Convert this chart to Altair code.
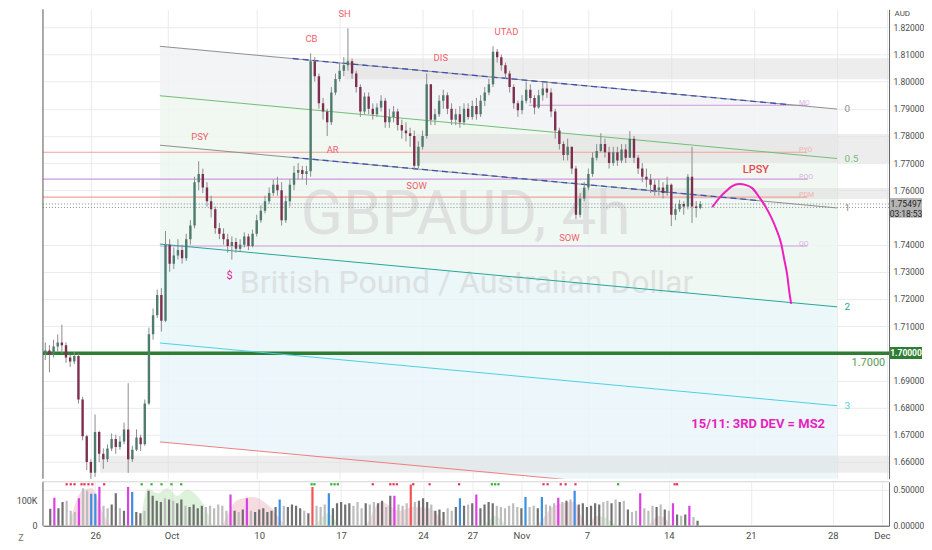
import altair as alt
import numpy as np
import pandas as pd

# GBPAUD 4h, four bars per trading day; trading day 0 = Mon 26 Sep 2022
BAR_START = -2.75
BAR_STEP = 0.25
FIRST_OPEN = 1.7000

closes = [
    1.7010, 1.6995, 1.7025,
    1.7040, 1.7030, 1.6985, 1.6970,
    1.6990, 1.6830, 1.6695, 1.6600,
    1.6560, 1.6710, 1.6630, 1.6610,
    1.6650, 1.6685, 1.6655, 1.6675,
    1.6720, 1.6610, 1.6645, 1.6690,
    1.6665, 1.6815, 1.7070, 1.7140,
    1.7215, 1.7120, 1.7400, 1.7330,
    1.7360, 1.7380, 1.7350, 1.7420,
    1.7470, 1.7630, 1.7660, 1.7610,
    1.7560, 1.7530, 1.7460, 1.7440,
    1.7420, 1.7395, 1.7410, 1.7385,
    1.7400, 1.7430, 1.7395, 1.7440,
    1.7490, 1.7525, 1.7560, 1.7590,
    1.7620, 1.7600, 1.7490, 1.7560,
    1.7620, 1.7665, 1.7675, 1.7660,
    1.7670, 1.8075, 1.8020, 1.7920,
    1.7890, 1.7850, 1.7960, 1.8010,
    1.8040, 1.8060, 1.8075, 1.8030,
    1.7980, 1.7890, 1.7945, 1.7900,
    1.7880, 1.7905, 1.7930, 1.7850,
    1.7870, 1.7890, 1.7840, 1.7820,
    1.7810, 1.7800, 1.7690, 1.7760,
    1.7800, 1.7990, 1.7860, 1.7880,
    1.7930, 1.7950, 1.7900, 1.7860,
    1.7880, 1.7850, 1.7900, 1.7870,
    1.7910, 1.7880, 1.7930, 1.7960,
    1.7990, 1.8110, 1.8090, 1.8060,
    1.8030, 1.7980, 1.7920, 1.7895,
    1.7930, 1.7970, 1.7940, 1.7905,
    1.7950, 1.7975, 1.7960, 1.7890,
    1.7820, 1.7770, 1.7730, 1.7760,
    1.7680, 1.7510, 1.7570, 1.7610,
    1.7660, 1.7720, 1.7745, 1.7770,
    1.7740, 1.7700, 1.7740, 1.7710,
    1.7750, 1.7720, 1.7790, 1.7720,
    1.7680, 1.7650, 1.7640, 1.7620,
    1.7600, 1.7610, 1.7590, 1.7620,
    1.7510, 1.7530, 1.7550, 1.7540,
    1.7650, 1.7540, 1.7535, 1.75497,
]
highs = [
    1.7040, 1.7030, 1.7050,
    1.7070, 1.7105, 1.7040, 1.6995,
    1.7005, 1.7000, 1.6840, 1.6700,
    1.6610, 1.6775, 1.6715, 1.6650,
    1.6665, 1.6705, 1.6700, 1.6695,
    1.6745, 1.6890, 1.6660, 1.6720,
    1.6700, 1.6830, 1.7095, 1.7165,
    1.7235, 1.7240, 1.7450, 1.7420,
    1.7390, 1.7420, 1.7400, 1.7440,
    1.7490, 1.7650, 1.7707, 1.7680,
    1.7630, 1.7580, 1.7540, 1.7480,
    1.7460, 1.7440, 1.7430, 1.7425,
    1.7420, 1.7445, 1.7440, 1.7455,
    1.7510, 1.7545, 1.7580, 1.7610,
    1.7640, 1.7650, 1.7630, 1.7580,
    1.7640, 1.7690, 1.7700, 1.7690,
    1.7690, 1.8104, 1.8090, 1.8030,
    1.7940, 1.7900, 1.7980, 1.8030,
    1.8070, 1.8090, 1.8196, 1.8085,
    1.8040, 1.7990, 1.7960, 1.7960,
    1.7920, 1.7920, 1.7950, 1.7940,
    1.7900, 1.7910, 1.7900, 1.7860,
    1.7850, 1.7830, 1.7820, 1.7780,
    1.7820, 1.8030, 1.7990, 1.7900,
    1.7950, 1.7970, 1.7960, 1.7920,
    1.7900, 1.7910, 1.7920, 1.7920,
    1.7930, 1.7940, 1.7950, 1.7980,
    1.8010, 1.8130, 1.8120, 1.8100,
    1.8070, 1.8040, 1.7990, 1.7930,
    1.7950, 1.8000, 1.7990, 1.7950,
    1.7970, 1.7995, 1.8000, 1.7975,
    1.7900, 1.7830, 1.7780, 1.7790,
    1.7760, 1.7690, 1.7590, 1.7630,
    1.7680, 1.7740, 1.7770, 1.7810,
    1.7790, 1.7760, 1.7760, 1.7760,
    1.7770, 1.7770, 1.7818, 1.7800,
    1.7730, 1.7700, 1.7680, 1.7660,
    1.7640, 1.7640, 1.7630, 1.7650,
    1.7625, 1.7550, 1.7565, 1.7560,
    1.7660, 1.7760, 1.7560, 1.7560,
]
lows = [
    1.6975, 1.6930, 1.6985,
    1.7005, 1.7000, 1.6965, 1.6950,
    1.6960, 1.6815, 1.6680, 1.6570,
    1.6535, 1.6545, 1.6600, 1.6575,
    1.6600, 1.6640, 1.6630, 1.6645,
    1.6665, 1.6560, 1.6600, 1.6640,
    1.6640, 1.6660, 1.6810, 1.7050,
    1.7130, 1.7080, 1.7115, 1.7300,
    1.7310, 1.7345, 1.7330, 1.7340,
    1.7400, 1.7460, 1.7600, 1.7590,
    1.7540, 1.7500, 1.7440, 1.7420,
    1.7400, 1.7370, 1.7345, 1.7370,
    1.7375, 1.7390, 1.7380, 1.7390,
    1.7430, 1.7480, 1.7515, 1.7550,
    1.7580, 1.7580, 1.7470, 1.7480,
    1.7540, 1.7600, 1.7640, 1.7640,
    1.7620, 1.7650, 1.8000, 1.7900,
    1.7860, 1.7800, 1.7840, 1.7950,
    1.8000, 1.8020, 1.8040, 1.8010,
    1.7960, 1.7870, 1.7880, 1.7880,
    1.7860, 1.7870, 1.7890, 1.7830,
    1.7830, 1.7850, 1.7820, 1.7790,
    1.7780, 1.7760, 1.7675, 1.7680,
    1.7750, 1.7790, 1.7840, 1.7840,
    1.7870, 1.7900, 1.7880, 1.7840,
    1.7840, 1.7830, 1.7840, 1.7860,
    1.7860, 1.7860, 1.7870, 1.7910,
    1.7950, 1.7980, 1.8070, 1.8040,
    1.8010, 1.7960, 1.7900, 1.7870,
    1.7880, 1.7920, 1.7920, 1.7880,
    1.7900, 1.7930, 1.7940, 1.7870,
    1.7790, 1.7750, 1.7710, 1.7710,
    1.7660, 1.7494, 1.7500, 1.7560,
    1.7600, 1.7650, 1.7710, 1.7740,
    1.7720, 1.7680, 1.7690, 1.7690,
    1.7700, 1.7700, 1.7720, 1.7700,
    1.7660, 1.7630, 1.7610, 1.7590,
    1.7580, 1.7580, 1.7570, 1.7580,
    1.7468, 1.7490, 1.7520, 1.7510,
    1.7530, 1.7480, 1.7500, 1.7530,
]
volumes_k = [
    68, 112, 70,
    95, 100, 60, 55,
    110, 150, 140, 128,
    128, 156, 80, 70,
    85, 130, 70, 60,
    155, 135, 55, 50,
    60, 140, 120, 100,
    95, 110, 105, 100,
    90, 105, 80, 75,
    85, 70, 80, 75,
    80, 70, 85, 80,
    60, 125, 60, 55,
    65, 110, 60, 55,
    65, 70, 55, 60,
    75, 105, 80, 75,
    85, 80, 70, 60,
    50, 155, 80, 75,
    85, 130, 70, 90,
    95, 85, 90, 80,
    95, 70, 90, 85,
    95, 90, 100, 75,
    120, 120, 85, 80,
    90, 165, 95, 100,
    110, 95, 85, 60,
    65, 55, 70, 60,
    75, 110, 80, 85,
    90, 125, 70, 85,
    95, 90, 80, 75,
    70, 80, 90, 75,
    70, 115, 75, 80,
    70, 115, 85, 80,
    90, 112, 95, 100,
    105, 140, 85, 90,
    75, 80, 90, 85,
    95, 100, 90, 105,
    95, 100, 65, 55,
    60, 130, 70, 60,
    80, 75, 85, 65,
    60, 90, 45, 40,
    45, 80, 35, 20,
]
# n = normal, m = magenta, b = blue, r = red volume bar
volume_kinds = [
    "nmn", "nnnn", "mnnb", "bmnn", "nnnn", "mbnn", "nnnn", "nnnn", "nnnn", "nnnn",
    "nnnn", "nmnn", "nmnn", "nnnn", "nbnn", "nnnn", "nrnn", "nbnn", "nnnn", "nnnn",
    "nnnn", "nmnn", "nrnn", "nnnn", "nnnn", "nbnn", "nmnn", "nnnn", "nnnn", "nbnn",
    "nbnn", "nmnn", "nbnn", "nnnn", "nnnn", "nnnn", "nmnn", "nnnn", "nmnn", "nmnn",
]

# volume indicator shading
pink_t = [-1.6, -0.8, -0.2, 0.4, 1.0, 7.6, 8.6, 9.6, 10.6, 11.8, 16.4, 17.4, 18.6,
          19.4, 20.4, 21.6, 26.8, 28.0, 29.2, 30.6, 31.0, 33.6, 34.4, 35.2]
pink_k = [0, 140, 150, 60, 0, 0, 100, 115, 80, 0, 0, 95, 60, 75, 70, 0, 0, 80, 95, 40, 0, 0, 40, 0]
green_t = [2.6, 3.2, 3.8, 4.4, 5.0, 5.6, 6.2, 6.8, 7.2, 13.2, 14.2, 15.0, 23.6, 24.4, 25.2, 30.0, 31.0, 32.0]
green_k = [0, 150, 130, 150, 120, 145, 120, 60, 0, 0, 50, 0, 0, 40, 0, 0, 35, 0]
red_dot_t = [-1.75, -1.5, -1.27, -0.84, -0.66, -0.42, -0.18, 0.54, 16.93, 18.0, 18.2, 18.4,
             19.4, 20.4, 22.2, 27.35, 27.6, 28.4, 28.7, 29.3, 35.35, 35.5]
green_dot_t = [2.83, 3.43, 4.04, 4.64, 5.24, 13.2, 13.37, 14.4, 14.6, 14.8, 24.2, 24.4, 24.6, 31.9]

tick_days = [0, 4.65, 10, 15, 20, 23, 26, 30, 35, 40, 45, 48]
tick_labels = ["26", "Oct", "10", "17", "24", "27", "Nov", "7", "14", "21", "28", "Dec"]
price_ticks = [1.66, 1.67, 1.68, 1.69, 1.71, 1.72, 1.73, 1.74, 1.76, 1.77, 1.78, 1.79, 1.80, 1.81, 1.82]

# fib channel
chan_levels = ["0", "0.5", "1", "2", "3", "4"]
chan_start = [1.8130, 1.7948, 1.7766, 1.7402, 1.7038, 1.6674]
chan_end = [1.7899, 1.7717, 1.7535, 1.7171, 1.6807, 1.6443]
CHAN_T0, CHAN_T1 = 4.16, 45.0

# horizontal levels
lvl_names = ["PYO", "PQO", "PDM", "MO", "QO"]
lvl_price = [1.7740, 1.7641, 1.7575, 1.7913, 1.7395]
lvl_start = [-2.89, -2.89, -2.89, 26.4, 4.16]
LVL_END = 43.2
current_price = 1.75497
ask_price = 1.7537

# shaded zones
zone_top = [1.8086, 1.7807, 1.7608, 1.6623]
zone_bottom = [1.8009, 1.7700, 1.7568, 1.6560]
zone_start = [15.3, 19.6, 29.2, 0.55]

# blue dashed trend lines
trend_t0 = [12.17, 12.17]
trend_t1 = [42.1, 40.3]
trend_p0 = [1.8085, 1.7721]
trend_p1 = [1.7915, 1.7562]

# projected path
path_t = [37.47, 37.89, 38.31, 38.67, 39.10, 39.52, 39.88, 40.30, 40.66, 41.02, 41.33,
          41.63, 41.81, 42.0, 42.11, 42.23]
path_p = [1.7538, 1.7571, 1.7597, 1.7615, 1.7623, 1.7619, 1.7608, 1.7575, 1.7542, 1.7501,
          1.7457, 1.7402, 1.7346, 1.7284, 1.7229, 1.7182]

ann_text = ["SH", "CB", "DIS", "UTAD", "PSY", "AR", "SOW", "SOW"]
ann_t = [15.3, 13.3, 21.1, 25.06, 6.57, 14.58, 19.64, 28.86]
ann_p = [1.8248, 1.8156, 1.8086, 1.8182, 1.7796, 1.7748, 1.7615, 1.7424]

# ---------------------------------------------------------------
W, H1, H2 = 847, 470, 44
T_MIN, T_MAX = -2.89, 48.13
PX_PER_PRICE = 2720
P_TOP = 1.826618
P_BOT = P_TOP - H1 / PX_PER_PRICE
VOL_MAX = 176000
GRID = "#ebebef"
UP, DOWN = "#4e7b6b", "#7e2f4f"
LABEL = "#4c4c4c"
FONT = "Roboto"

n = len(closes)
opens = [FIRST_OPEN] + closes[:-1]
candles = pd.DataFrame({
    "t": [BAR_START + i * BAR_STEP for i in range(n)],
    "open": opens, "high": highs, "low": lows, "close": closes,
    "vol": [v * 1000 for v in volumes_k],
    "kind": list("".join(volume_kinds)),
})
candles["high"] = candles[["high", "open", "close"]].max(axis=1)
candles["low"] = candles[["low", "open", "close"]].min(axis=1)
is_up = candles["close"] >= candles["open"]
candles["body"] = np.where(is_up, UP, DOWN)
vcols = {"m": "#dc3fe6", "b": "#3b8ee0", "r": "#f05454"}
candles["vcol"] = [vcols.get(k, "#707070" if u else "#bdbdbd") for k, u in zip(candles["kind"], is_up)]

xscale = alt.Scale(domain=[T_MIN, T_MAX], nice=False, zero=False)
yscale = alt.Scale(domain=[P_BOT, P_TOP], nice=False, zero=False)
label_expr = "".join(f"datum.value == {d} ? '{l}' : " for d, l in zip(tick_days, tick_labels)) + "''"


def X(field, bottom=False):
    if bottom:
        ax = alt.Axis(values=tick_days, labelExpr=label_expr, grid=True, gridColor=GRID, ticks=False,
                      domainColor="#555", labelFontSize=9.5, labelColor=LABEL, labelPadding=5,
                      labelFlush=False, title=None, labelFont=FONT)
    else:
        ax = alt.Axis(values=tick_days, labels=False, grid=True, gridColor=GRID, ticks=False,
                      domain=False, title=None)
    return alt.X(field, type="quantitative", scale=xscale, axis=ax)


price_axis = alt.Axis(orient="right", values=price_ticks, format=".5f", grid=True, gridColor=GRID,
                      ticks=False, domainColor="#666", labelFontSize=8.5, labelColor=LABEL,
                      labelPadding=4, labelFont=FONT, title="AUD", titleAngle=0, titleAlign="left",
                      titleBaseline="top", titleX=5, titleY=0, titleFontSize=8,
                      titleFontWeight="normal", titleColor=LABEL, titleFont=FONT)


def Y(field):
    return alt.Y(field, type="quantitative", scale=yscale, axis=price_axis)


# channel fills and lines
fill_cols = ["#f1f2f3", "#eef6ef", "#ecf7f1", "#e8f6f8", "#e9f5fa"]
rows = []
for i, col in enumerate(fill_cols):
    rows.append({"band": i, "t": CHAN_T0, "top": chan_start[i], "bottom": chan_start[i + 1], "col": col})
    rows.append({"band": i, "t": CHAN_T1, "top": chan_end[i], "bottom": chan_end[i + 1], "col": col})
fills = alt.Chart(pd.DataFrame(rows)).mark_area(opacity=0.85, clip=True).encode(
    x=X("t"), y=Y("top"), y2="bottom", color=alt.Color("col:N", scale=None), detail="band:N")

chan_cols = ["#8f8f8f", "#6fbf73", "#8f8f8f", "#26a69a", "#4dd0e1", "#ef7d7d"]
crow = []
for lv, a, b, c in zip(chan_levels, chan_start, chan_end, chan_cols):
    crow += [{"lv": lv, "t": CHAN_T0, "p": a, "col": c}, {"lv": lv, "t": CHAN_T1, "p": b, "col": c}]
chan_lines = alt.Chart(pd.DataFrame(crow)).mark_line(strokeWidth=1, clip=True).encode(
    x=X("t"), y=Y("p"), color=alt.Color("col:N", scale=None), detail="lv:N")

chan_lab = pd.DataFrame({"t": 45.45, "p": chan_end[:5], "txt": chan_levels[:5], "col": chan_cols[:5]})
chan_text = alt.Chart(chan_lab).mark_text(align="left", baseline="middle", fontSize=10, font=FONT).encode(
    x=X("t"), y=Y("p"), text="txt:N", color=alt.Color("col:N", scale=None))

zones = pd.DataFrame({"t0": zone_start, "t1": T_MAX, "top": zone_top, "bottom": zone_bottom})
zone_rects = alt.Chart(zones).mark_rect(color="#dedede", opacity=0.55, clip=True).encode(
    x=X("t0"), x2="t1", y=Y("top"), y2="bottom")

wm1 = alt.Chart(pd.DataFrame({"t": [22.6], "p": [1.7439], "s": ["GBPAUD, 4h"]})).mark_text(
    fontSize=62, font=FONT, color="#d8d8d8", opacity=0.7, baseline="alphabetic").encode(
    x=X("t"), y=Y("p"), text="s:N")
wm2 = alt.Chart(pd.DataFrame({"t": [22.65], "p": [1.7222], "s": ["British Pound / Australian Dollar"]})).mark_text(
    fontSize=32, font=FONT, color="#d8d8d8", opacity=0.7, baseline="alphabetic").encode(
    x=X("t"), y=Y("p"), text="s:N")

lvl_cols = ["#f4a19c", "#cf98de", "#f4a19c", "#cf98de", "#cf98de"]
lvls = pd.DataFrame({"t0": lvl_start, "t1": LVL_END, "p": lvl_price, "name": lvl_names, "col": lvl_cols})
lvl_rules = alt.Chart(lvls).mark_rule(strokeWidth=1.2, clip=True).encode(
    x=X("t0"), x2="t1", y=Y("p"), color=alt.Color("col:N", scale=None))
lvl_text = alt.Chart(lvls.assign(tl=42.7)).mark_text(
    align="left", baseline="bottom", dy=1, fontSize=7, font=FONT, opacity=0.75).encode(
    x=X("tl"), y=Y("p"), text="name:N", color=alt.Color("col:N", scale=None))

dotted = alt.Chart(pd.DataFrame({"p": [current_price, ask_price], "t0": T_MIN, "t1": T_MAX})).mark_rule(
    color="#8a8a8a", strokeDash=[1, 2], strokeWidth=1, clip=True).encode(x=X("t0"), x2="t1", y=Y("p"))

big = alt.Chart(pd.DataFrame({"p": [1.70], "t0": T_MIN, "t1": T_MAX})).mark_rule(
    color="#2e7d32", strokeWidth=3.5, clip=True).encode(x=X("t0"), x2="t1", y=Y("p"))
big_lab = alt.Chart(pd.DataFrame({"t": [47.9], "p": [1.6965], "s": ["1.7000"]})).mark_text(
    align="right", baseline="middle", fontSize=11, font=FONT, color="#5c9a5c").encode(
    x=X("t"), y=Y("p"), text="s:N")

trend_rows = []
for i in range(2):
    trend_rows += [{"seg": i, "t": trend_t0[i], "p": trend_p0[i]}, {"seg": i, "t": trend_t1[i], "p": trend_p1[i]}]
trends = alt.Chart(pd.DataFrame(trend_rows)).mark_line(
    color="#3f51b5", strokeDash=[6, 4], strokeWidth=1.3, clip=True).encode(x=X("t"), y=Y("p"), detail="seg:N")

wicks = alt.Chart(candles).mark_rule(color="#8d8d8d", strokeWidth=1, clip=True).encode(
    x=X("t"), y=Y("low"), y2="high")
bodies = alt.Chart(candles).mark_rule(strokeWidth=2.4, clip=True).encode(
    x=X("t"), y=Y("open"), y2="close", color=alt.Color("body:N", scale=None))

anns = alt.Chart(pd.DataFrame({"t": ann_t, "p": ann_p, "s": ann_text})).mark_text(
    fontSize=9.5, font=FONT, color="#ef5f6b").encode(x=X("t"), y=Y("p"), text="s:N")
lpsy = alt.Chart(pd.DataFrame({"t": [40.1], "p": [1.7674], "s": ["LPSY"]})).mark_text(
    fontSize=11, font=FONT, fontWeight=500, color="#e8454f").encode(x=X("t"), y=Y("p"), text="s:N")
dollar = alt.Chart(pd.DataFrame({"t": [8.37], "p": [1.7285], "s": ["$"]})).mark_text(
    fontSize=11, font=FONT, color="#e5199a").encode(x=X("t"), y=Y("p"), text="s:N")
note = alt.Chart(pd.DataFrame({"t": [40.24], "p": [1.6740], "s": ["15/11: 3RD DEV = MS2"]})).mark_text(
    fontSize=13, font=FONT, fontWeight="bold", color="#e81fbf").encode(x=X("t"), y=Y("p"), text="s:N")

path = alt.Chart(pd.DataFrame({"t": path_t, "p": path_p, "o": range(len(path_t))})).mark_line(
    color="#ee1fbf", strokeWidth=2, interpolate="monotone", clip=True).encode(
    x=X("t"), y=Y("p"), order="o:Q")

tag_df = pd.DataFrame({"top": [1.75717], "bottom": [1.74987]})
tag_box = alt.Chart(tag_df).mark_rect(color="#b4b4b4", clip=False).encode(
    x=alt.value(W + 1), x2=alt.value(W + 33), y=Y("top"), y2="bottom")
tag_txt = alt.Chart(pd.DataFrame({"p": [current_price, 1.7511], "s": ["1.75497", "03:18:53"]})).mark_text(
    fontSize=8.5, font=FONT, color="#1e1e1e", clip=False, baseline="middle").encode(
    x=alt.value(W + 17), y=Y("p"), text="s:N")
gtag_box = alt.Chart(pd.DataFrame({"top": [1.70235], "bottom": [1.69794]})).mark_rect(
    color="#2e7d32", clip=False).encode(x=alt.value(W + 1), x2=alt.value(W + 33), y=Y("top"), y2="bottom")
gtag_txt = alt.Chart(pd.DataFrame({"p": [1.70], "s": ["1.70000"]})).mark_text(
    fontSize=8.5, font=FONT, color="white", fontWeight="bold", clip=False, baseline="middle").encode(
    x=alt.value(W + 17), y=Y("p"), text="s:N")

one = pd.DataFrame({"a": [0]})
left_border = alt.Chart(one).mark_rule(color="#555", strokeWidth=1).encode(
    x=alt.value(0), y=alt.value(0), y2=alt.value(H1))

price = alt.layer(
    fills, zone_rects, wm1, wm2, lvl_rules, lvl_text, dotted, big, big_lab, chan_lines, chan_text,
    trends, wicks, bodies, anns, lpsy, dollar, note, path, tag_box, tag_txt, gtag_box, gtag_txt,
    left_border,
).properties(width=W, height=H1)

# ---------------- volume panel -----------------
vscale = alt.Scale(domain=[0, VOL_MAX], nice=False, zero=True)
vol_axis = alt.Axis(orient="left", values=[0, 100000], labelExpr="datum.value == 0 ? '0' : '100K'",
                    grid=False, ticks=False, domain=False, title=None, labelFontSize=9,
                    labelColor=LABEL, labelPadding=6, labelFont=FONT)


def VY(field):
    return alt.Y(field, type="quantitative", scale=vscale, axis=vol_axis)


shade = pd.concat([
    pd.DataFrame({"t": pink_t, "v": [k * 1000 for k in pink_k], "g": "pink"}),
    pd.DataFrame({"t": green_t, "v": [k * 1000 for k in green_k], "g": "green"}),
])
shade["col"] = np.where(shade["g"] == "pink", "#eab0bb", "#b5e3b0")
vol_shade = alt.Chart(shade).mark_area(opacity=0.45, interpolate="monotone", clip=True).encode(
    x=X("t", True), y=VY("v"), color=alt.Color("col:N", scale=None), detail="g:N")
vol_bars = alt.Chart(candles).mark_bar(size=2.2, clip=True).encode(
    x=X("t", True), y=VY("vol"), color=alt.Color("vcol:N", scale=None))
dots = pd.concat([
    pd.DataFrame({"t": red_dot_t, "col": "#e8335a"}),
    pd.DataFrame({"t": green_dot_t, "col": "#33b233"}),
])
dots["v"] = 166000
vol_dots = alt.Chart(dots).mark_square(size=5, opacity=1).encode(
    x=X("t", True), y=VY("v"), color=alt.Color("col:N", scale=None))
vol_left = alt.Chart(one).mark_rule(color="#555", strokeWidth=1).encode(
    x=alt.value(0), y=alt.value(0), y2=alt.value(H2))
vol_top = alt.Chart(one).mark_rule(color="#d4d4d4", strokeWidth=1).encode(
    x=alt.value(0), x2=alt.value(W), y=alt.value(0))
z_btn = alt.Chart(pd.DataFrame({"s": ["Z"]})).mark_text(
    fontSize=9, font=FONT, color="#777", clip=False).encode(
    x=alt.value(-22), y=alt.value(H2 + 12), text="s:N")

ind = alt.Chart(pd.DataFrame({"t": [0, 0], "v": [0, 0.5]})).mark_point(opacity=0).encode(
    x=X("t", True),
    y=alt.Y("v:Q", scale=alt.Scale(domain=[0, 0.611], nice=False),
            axis=alt.Axis(orient="right", values=[0, 0.5], format=".5f", grid=True, gridColor=GRID,
                          ticks=False, domainColor="#666", labelFontSize=8.5, labelColor=LABEL,
                          labelPadding=4, labelFont=FONT, title=None)))

volume = alt.layer(
    alt.layer(vol_shade, vol_bars, vol_dots, vol_left, vol_top, z_btn),
    ind,
).resolve_scale(y="independent").properties(width=W, height=H2)

chart = alt.vconcat(price, volume, spacing=1).properties(
    padding={"left": 8, "top": 0, "right": 0, "bottom": 0}
).configure_view(stroke=None)

chart.save("out.html", embed_options={"renderer": "svg", "actions": False})
